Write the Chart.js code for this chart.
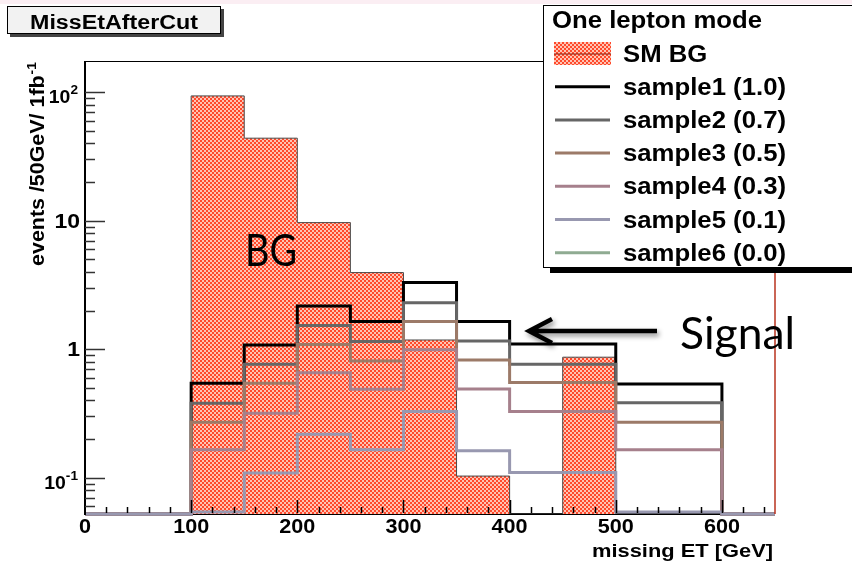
<!DOCTYPE html>
<html>
<head>
<meta charset="utf-8">
<script src="https://cdn.jsdelivr.net/npm/chart.js@4.4.1/dist/chart.umd.min.js"></script>
<style>
  html, body { margin: 0; padding: 0; background: #fff; overflow: hidden; }
  #wrap { width: 852px; height: 564px; }
</style>
</head>
<body>
<div id="wrap"><canvas id="c" width="852" height="564"></canvas></div>
<script>
// Missing transverse energy after cuts, 50 GeV bins, log scale
const binEdges = [0, 50, 100, 150, 200, 250, 300, 350, 400, 450, 500, 550, 600, 650];
const smBG    = [0, 0, 93.6, 43.9, 9.67, 3.95, 1.18, 0.103, 0, 0.867, 0, 0, 0];
const sample1 = [0, 0, 0.544, 1.08, 2.17, 1.64, 3.30, 1.64, 1.10, 1.10, 0.537, 0.537, 0];
const sample2 = [0, 0, 0.380, 0.764, 1.53, 1.15, 2.30, 1.16, 0.764, 0.764, 0.384, 0.384, 0];
const sample3 = [0, 0, 0.270, 0.544, 1.09, 0.811, 1.64, 0.825, 0.550, 0.550, 0.270, 0.270, 0];
const sample4 = [0, 0, 0.165, 0.318, 0.657, 0.489, 0.99, 0.490, 0.327, 0.327, 0.165, 0.165, 0];
const sample5 = [0, 0, 0.054, 0.109, 0.218, 0.165, 0.327, 0.162, 0.110, 0.110, 0.054, 0.054, 0];
const sample6 = [0, 0, 0, 0, 0, 0, 0, 0, 0, 0, 0, 0, 0];
const seriesNames = ['SM BG', 'sample1 (1.0)', 'sample2 (0.7)', 'sample3 (0.5)',
                     'sample4 (0.3)', 'sample5 (0.1)', 'sample6 (0.0)'];
const xTickValues = [0, 100, 200, 300, 400, 500, 600];
const yDecades = [0.1, 1, 10, 100];
const yDecadeLabels = [['10', '-1'], ['1', ''], ['10', ''], ['10', '2']];
const xRange = [0, 650];
const yRange = [0.0522, 175];

const FONT = '"Liberation Sans", Arial, Helvetica, sans-serif';
const NOTE_FONT = 'Lato, "Open Sans", sans-serif';
const lineColors = ['#000000', '#666666', '#9c7a68', '#a6808c', '#9898b0', '#8fab92'];

// red checkered hatch used for the background histogram
function makeHatch() {
  const c = document.createElement('canvas');
  c.width = 4; c.height = 4;
  const g = c.getContext('2d');
  g.fillStyle = '#ffc4b4'; g.fillRect(0, 0, 4, 4);
  g.fillStyle = '#ff4a2c';
  g.fillRect(0, 0, 2, 2); g.fillRect(2, 2, 2, 2);
  return g.createPattern(c, 'repeat');
}
const hatch = makeHatch();

// Histogram outline points; empty bins sit on the bottom of the log axis
function steps(values) {
  return binEdges.map((e, i) => {
    const v = values[Math.min(i, values.length - 1)];
    return { x: e, y: v > 0 ? v : yRange[0] };
  });
}

const samples = [sample1, sample2, sample3, sample4, sample5, sample6];
// later samples sit on top of earlier ones
const sampleOrder = [6, 5, 4, 3, 2, 1];
const datasets = samples.map((s, i) => ({
  label: seriesNames[i + 1],
  data: steps(s),
  stepped: true,
  borderColor: lineColors[i],
  borderWidth: 3,
  fill: false,
  pointRadius: 0,
  clip: 6,
  // an empty histogram leaves nothing to draw
  hidden: s.every(v => v === 0),
  order: sampleOrder[i]
}));
datasets.push({
  label: seriesNames[0],
  data: steps(smBG),
  stepped: true,
  borderColor: '#4a4a4a',
  borderWidth: 1,
  backgroundColor: hatch,
  fill: 'start',
  pointRadius: 0,
  order: 10
});

function txt(ctx, s, x, y, o) {
  ctx.save();
  ctx.font = (o.weight || 'bold') + ' ' + o.size + 'px ' + (o.family || FONT);
  ctx.textBaseline = 'alphabetic';
  ctx.textAlign = 'left';
  ctx.fillStyle = o.color || '#000';
  const w = ctx.measureText(s).width;
  const sx = o.width ? o.width / w : (o.sx || 1);
  const W = w * sx;
  let left = x;
  if (o.align === 'center') left = x - W / 2;
  else if (o.align === 'right') left = x - W;
  ctx.translate(left, y);
  ctx.scale(sx, 1);
  ctx.fillText(s, 0, 0);
  ctx.restore();
  return W;
}

const deco = {
  id: 'deco',
  beforeDraw(chart) {
    const ctx = chart.ctx;
    ctx.save();
    ctx.fillStyle = '#ffffff';
    ctx.fillRect(0, 0, chart.width, chart.height);
    ctx.fillStyle = '#fbeef3';
    ctx.fillRect(0, 0, chart.width, 4);
    ctx.restore();
  },
  beforeDatasetsDraw(chart) {
    const ctx = chart.ctx, a = chart.chartArea;
    ctx.save();
    ctx.strokeStyle = '#000';
    ctx.lineWidth = 2;
    ctx.beginPath();
    ctx.moveTo(a.left, a.bottom); ctx.lineTo(a.right, a.bottom);
    ctx.stroke();
    ctx.restore();
  },
  afterDatasetsDraw(chart) {
    const ctx = chart.ctx, a = chart.chartArea;
    const xs = chart.scales.x, ys = chart.scales.y;
    ctx.save();
    // frame
    ctx.strokeStyle = '#000';
    ctx.lineWidth = 1;
    ctx.beginPath();
    ctx.moveTo(a.left, a.top + 0.5); ctx.lineTo(a.right, a.top + 0.5);
    ctx.stroke();
    ctx.lineWidth = 2;
    ctx.beginPath();
    ctx.moveTo(a.left, a.top); ctx.lineTo(a.left, a.bottom + 1);
    ctx.stroke();
    // y ticks: decades and 2..9 sub-ticks
    ctx.lineWidth = 1.5;
    ctx.strokeStyle = '#333';
    for (let e = -2; e <= 2; e++) {
      for (let k = 1; k <= 9; k++) {
        const v = k * Math.pow(10, e);
        if (v < yRange[0] || v > yRange[1]) continue;
        const py = Math.round(ys.getPixelForValue(v)) + 0.5;
        const len = k === 1 ? 20 : 10;
        ctx.beginPath(); ctx.moveTo(a.left, py); ctx.lineTo(a.left + len, py); ctx.stroke();
      }
    }
    // x ticks every 20, long ones every 100
    ctx.strokeStyle = '#000';
    ctx.lineWidth = 1.5;
    for (let v = 20; v < xRange[1]; v += 20) {
      const px = Math.round(xs.getPixelForValue(v)) + 0.5;
      const len = v % 100 === 0 ? 13 : 6;
      ctx.beginPath(); ctx.moveTo(px, a.bottom - 1); ctx.lineTo(px, a.bottom - 1 - len); ctx.stroke();
    }
    // right edge
    ctx.strokeStyle = '#b8321e';
    ctx.lineWidth = 1.5;
    ctx.beginPath(); ctx.moveTo(a.right, a.top); ctx.lineTo(a.right, a.bottom); ctx.stroke();
    ctx.restore();
  },
  afterDraw(chart) {
    const ctx = chart.ctx;
    const xs = chart.scales.x, ys = chart.scales.y;
    ctx.save();

    // x tick labels
    xTickValues.forEach(v => {
      txt(ctx, String(v), xs.getPixelForValue(v), 533, { size: 20, align: 'center', sx: 1.08 });
    });
    // y tick labels
    yDecades.forEach((v, i) => {
      const py = ys.getPixelForValue(v);
      const [base, sup] = yDecadeLabels[i];
      if (!sup) {
        txt(ctx, base, 80, py + 7, { size: 20, align: 'right', sx: 1.15 });
      } else {
        ctx.font = 'bold 13px ' + FONT;
        const ws = ctx.measureText(sup).width * 1.05;
        txt(ctx, sup, 78, py + 2, { size: 13, align: 'right', sx: 1.05 });
        txt(ctx, base, 78 - ws, py + 11, { size: 18, align: 'right', sx: 1.08 });
      }
    });
    // x axis title
    txt(ctx, 'missing ET [GeV]', 773, 557, { size: 19, align: 'right', width: 181 });
    // y axis title (rotated, ends at the top of the frame)
    ctx.save();
    ctx.translate(44, 62);
    ctx.rotate(-Math.PI / 2);
    ctx.font = 'bold 20px ' + FONT;
    const wb = ctx.measureText('events /50GeV/ 1fb').width;
    ctx.font = 'bold 13px ' + FONT;
    const wsu = ctx.measureText('-1').width;
    const k = 204 / (wb + wsu + 1);
    txt(ctx, '-1', 0, -8, { size: 13, align: 'right', sx: k });
    txt(ctx, 'events /50GeV/ 1fb', -wsu * k - 1, 0, { size: 20, align: 'right', sx: k });
    ctx.restore();

    // histogram title box
    ctx.fillStyle = '#444';
    ctx.fillRect(10, 9, 214, 28);
    ctx.fillStyle = '#f2f2f2';
    ctx.fillRect(7, 6, 214, 28);
    ctx.strokeStyle = '#000';
    ctx.lineWidth = 1;
    ctx.strokeRect(7.5, 6.5, 213, 27);
    txt(ctx, 'MissEtAfterCut', 114, 29, { size: 20, align: 'center', width: 168 });

    // legend
    ctx.fillStyle = '#000';
    ctx.fillRect(550, 268, 310, 5);
    ctx.fillStyle = '#fff';
    ctx.fillRect(543, 5, 320, 263);
    ctx.strokeStyle = '#000';
    ctx.lineWidth = 1;
    ctx.strokeRect(543.5, 5.5, 320, 262);
    txt(ctx, 'One lepton mode', 552, 28, { size: 23, width: 210 });
    ctx.font = 'bold 23px ' + FONT;
    const ek = 163 / ctx.measureText('sample1 (1.0)').width;
    const ds = chart.data.datasets;
    const bgSet = ds[ds.length - 1];
    const rows = [bgSet].concat(ds.slice(0, ds.length - 1));
    rows.forEach((d, i) => {
      const cy = 53.5 + 33.2 * i;
      if (d.fill) {
        ctx.fillStyle = d.backgroundColor;
        ctx.fillRect(554, cy - 11.5, 57, 23);
        ctx.strokeStyle = '#8a1f10';
        ctx.lineWidth = 1;
        ctx.beginPath(); ctx.moveTo(554, cy + 0.5); ctx.lineTo(611, cy + 0.5); ctx.stroke();
      } else {
        ctx.strokeStyle = d.borderColor;
        ctx.lineWidth = 3;
        ctx.beginPath(); ctx.moveTo(555, cy); ctx.lineTo(610, cy); ctx.stroke();
      }
      txt(ctx, d.label, 623, cy + 8, { size: 23, sx: ek });
    });

    // annotations
    txt(ctx, 'BG', 245, 266, { size: 44, weight: 'normal', family: NOTE_FONT, width: 52 });
    txt(ctx, 'Signal', 680, 349, { size: 45, weight: 'normal', family: NOTE_FONT, width: 115 });
    ctx.save();
    ctx.shadowColor = 'rgba(0,0,0,0.45)';
    ctx.shadowBlur = 5;
    ctx.shadowOffsetX = 2;
    ctx.shadowOffsetY = 3;
    ctx.strokeStyle = '#000';
    ctx.lineWidth = 4.5;
    ctx.lineJoin = 'miter';
    ctx.beginPath();
    ctx.moveTo(657, 331); ctx.lineTo(531, 331);
    ctx.moveTo(552, 319); ctx.lineTo(529, 331); ctx.lineTo(552, 343);
    ctx.stroke();
    ctx.restore();

    ctx.restore();
  }
};

new Chart(document.getElementById('c'), {
  type: 'line',
  data: { datasets },
  options: {
    responsive: false,
    animation: false,
    devicePixelRatio: 1,
    layout: { padding: { left: 85, top: 61, right: 77, bottom: 50 } },
    scales: {
      x: { type: 'linear', min: xRange[0], max: xRange[1], display: false },
      y: { type: 'logarithmic', min: yRange[0], max: yRange[1], display: false }
    },
    plugins: { legend: { display: false }, tooltip: { enabled: false } },
    elements: { line: { tension: 0 }, point: { radius: 0 } }
  },
  plugins: [deco]
});
</script>
</body>
</html>
